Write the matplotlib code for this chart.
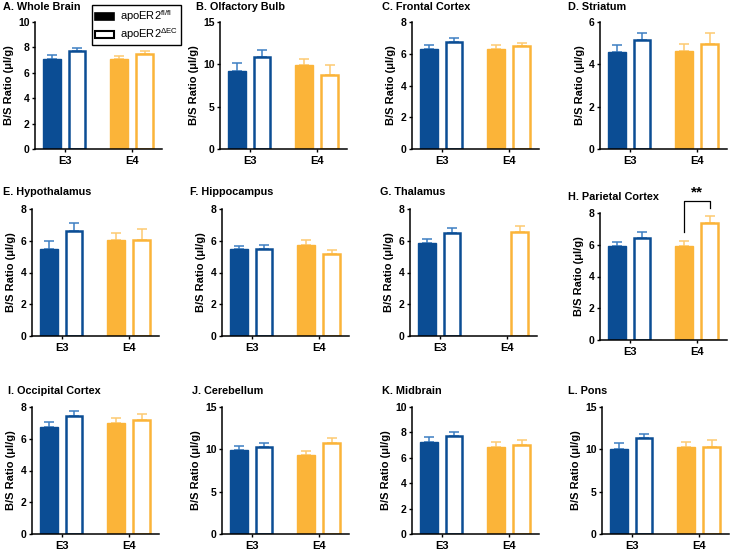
import matplotlib
matplotlib.use("Agg")
import matplotlib.pyplot as plt
from matplotlib.patches import Patch
import numpy as np

plt.rcParams['font.family'] = ['Liberation Sans', 'DejaVu Sans']
plt.rcParams['mathtext.fontset'] = 'custom'
plt.rcParams['mathtext.rm'] = 'Liberation Sans'
plt.rcParams['mathtext.it'] = 'Liberation Sans:italic'
plt.rcParams['mathtext.bf'] = 'Liberation Sans:bold'

# data: mean and upper SEM for each region
regions = ["A. Whole Brain", "B. Olfactory Bulb", "C. Frontal Cortex", "D. Striatum",
           "E. Hypothalamus", "F. Hippocampus", "G. Thalamus", "H. Parietal Cortex",
           "I. Occipital Cortex", "J. Cerebellum", "K. Midbrain", "L. Pons"]
ymax = [10, 15, 8, 6, 8, 8, 8, 8, 8, 15, 10, 15]
groups = ["E3", "E4"]

fl_e3 = [7.12, 9.19, 6.32, 4.59, 5.45, 5.45, 5.85, 5.92, 6.74, 9.87, 7.24, 10.03]
fl_e3_sem = [0.26, 1.01, 0.21, 0.34, 0.55, 0.23, 0.26, 0.23, 0.31, 0.47, 0.39, 0.71]
ec_e3 = [7.70, 10.88, 6.72, 5.14, 6.63, 5.49, 6.48, 6.42, 7.41, 10.22, 7.68, 11.37]
ec_e3_sem = [0.26, 0.78, 0.30, 0.34, 0.51, 0.26, 0.30, 0.38, 0.34, 0.48, 0.32, 0.47]
fl_e4 = [7.12, 9.89, 6.32, 4.65, 6.04, 5.73, np.nan, 5.92, 6.97, 9.28, 6.87, 10.26]
fl_e4_sem = [0.24, 0.79, 0.25, 0.30, 0.42, 0.33, np.nan, 0.29, 0.31, 0.47, 0.34, 0.56]
ec_e4 = [7.49, 8.72, 6.49, 4.98, 6.02, 5.18, 6.53, 7.37, 7.16, 10.74, 7.03, 10.26]
ec_e4_sem = [0.23, 1.17, 0.21, 0.50, 0.74, 0.21, 0.42, 0.42, 0.40, 0.55, 0.39, 0.79]

blue = "#0b4d94"
blue_err = "#3d7fc2"
orange = "#fbb439"
orange_err = "#fdca72"

W, H = 732, 551
fig = plt.figure(figsize=(W / 100, H / 100), dpi=100)

# panel boxes in pixels: left spine x, top y, bottom y
lefts = [35, 220, 412, 600, 32, 222, 410, 600, 32, 222, 412, 602]
tops = [22, 22, 22, 22, 209, 209, 209, 213, 407, 407, 407, 407]
bottoms = [149, 149, 149, 149, 336, 336, 336, 340, 534, 534, 534, 534]
width_px = 127
title_x = [3, 196, 382, 568, 3, 190, 380, 568, 8, 192, 382, 568]
title_y = [7, 7, 7, 7, 192, 192, 192, 197, 391, 391, 391, 391]

bw = 0.26
off = 0.19

for i in range(12):
    l, t, b = lefts[i], tops[i], bottoms[i]
    ax = fig.add_axes([l / W, 1 - b / H, width_px / W, (b - t) / H])
    xs = np.arange(len(groups))
    means = [(fl_e3[i], fl_e3_sem[i], ec_e3[i], ec_e3_sem[i], blue, blue_err),
             (fl_e4[i], fl_e4_sem[i], ec_e4[i], ec_e4_sem[i], orange, orange_err)]
    for x, (m1, s1, m2, s2, c, ce) in zip(xs, means):
        if not np.isnan(m1):
            ax.errorbar(x - off, m1, yerr=[[0], [s1]], color=ce, lw=1.1,
                        capsize=3.8, capthick=1.1, zorder=1)
            ax.bar(x - off, m1, bw, color=c, edgecolor=c, lw=1.0, zorder=2)
        if not np.isnan(m2):
            ax.errorbar(x + off, m2, yerr=[[0], [s2]], color=ce, lw=1.1,
                        capsize=3.8, capthick=1.1, zorder=1)
            ax.bar(x + off, m2, bw - 0.02, facecolor="white", edgecolor=c,
                   lw=1.8, zorder=2)
    ax.set_xlim(-0.44, 1.45)
    ax.set_ylim(0, ymax[i])
    step = 5 if ymax[i] == 15 else 2
    ax.set_yticks(np.arange(0, ymax[i] + 0.1, step))
    ax.set_xticks(xs)
    ax.set_xticklabels(groups)
    for s in ["top", "right"]:
        ax.spines[s].set_visible(False)
    for s in ["left", "bottom"]:
        ax.spines[s].set_linewidth(1.1)
    ax.tick_params(direction="out", length=2.5, width=1.0, labelsize=7.5, pad=1.5)
    ax.tick_params(axis="x", labelsize=8, pad=2.5)
    for lab in ax.get_xticklabels() + ax.get_yticklabels():
        lab.set_fontweight("bold")
    ax.set_ylabel("B/S Ratio (μl/g)", fontsize=8, fontweight="bold", labelpad=3)
    fig.text(title_x[i] / W, 1 - title_y[i] / H, regions[i], fontsize=7.8,
             fontweight="bold", ha="left", va="center")
    if i == 7:
        # significance bracket E4 fl/fl vs deltaEC
        ax.plot([1 - off, 1 - off, 1 + off, 1 + off], [6.8, 8.78, 8.78, 8.32],
                color="black", lw=0.9, clip_on=False)
        ax.text(1, 8.85, "**", ha="center", va="bottom", fontsize=11,
                fontweight="bold", clip_on=False)

handles = [Patch(facecolor="black", edgecolor="black", lw=1.2),
           Patch(facecolor="white", edgecolor="black", lw=1.5)]
labels = [r"apoER2$^{\mathrm{fl/fl}}$", r"apoER2$^{\Delta\mathrm{EC}}$"]
leg = fig.legend(handles, labels, loc="upper left", bbox_to_anchor=(92 / W, 1 - 5 / H),
                 fontsize=8, frameon=True, fancybox=False, edgecolor="black",
                 framealpha=1, handlelength=1.7, handleheight=0.65, borderpad=0.3,
                 labelspacing=0.2, handletextpad=0.5, borderaxespad=0)
leg.get_frame().set_linewidth(1.0)

fig.savefig("out.png", dpi=100)
